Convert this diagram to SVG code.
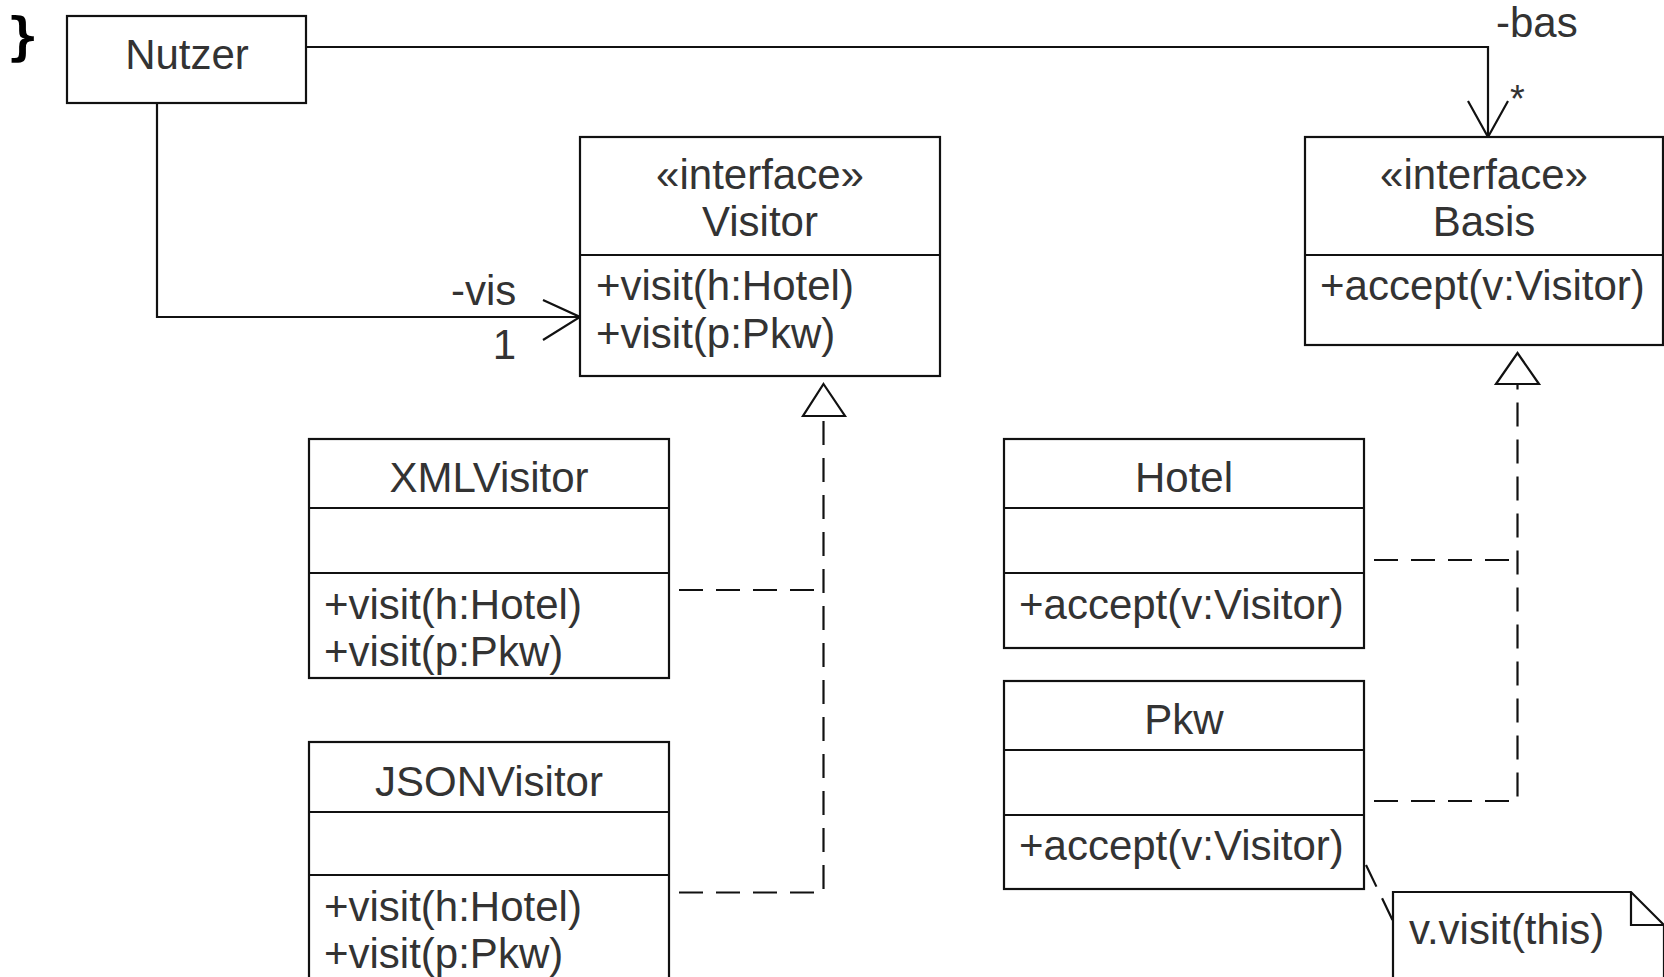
<svg xmlns="http://www.w3.org/2000/svg" width="1664" height="977" viewBox="0 0 1664 977">
<style>
  .box{fill:#fff;stroke:#111;stroke-width:2.2}
  .ln{fill:none;stroke:#111;stroke-width:2.2}
  .dash{fill:none;stroke:#111;stroke-width:2.2;stroke-dasharray:24 13}
  .tri{fill:#fff;stroke:#111;stroke-width:2.2}
  text{font-family:"Liberation Sans",Arial,sans-serif;font-size:42px;fill:#333}
  .c{text-anchor:middle}
  .brace{font-family:"DejaVu Sans Mono",monospace;font-weight:bold;font-size:52px;fill:#000}
</style>
<rect width="1664" height="977" fill="#fff"/>
<text class="brace" x="7" y="54">}</text>

<g id="connectors">
  <polyline class="ln" points="306,47 1488,47 1488,137"/>
  <polyline class="ln" points="1468,101 1488,137 1508,101"/>
  <text x="1496" y="37">-bas</text>
  <text x="1510" y="112" style="font-size:38px">*</text>

  <polyline class="ln" points="157,103 157,317 580,317"/>
  <polyline class="ln" points="543,300 580,317 543,340"/>
  <text x="451" y="305">-vis</text>
  <text x="516" y="359" text-anchor="end">1</text>

  <polyline class="dash" points="679,892.5 823.5,892.5 823.5,416"/>
  <line class="dash" x1="679" y1="590" x2="823.5" y2="590"/>
  <polygon class="tri" points="823.5,384 845,416 803,416"/>

  <polyline class="dash" points="1374,801 1517.5,801 1517.5,384"/>
  <line class="dash" x1="1374" y1="560" x2="1517.5" y2="560"/>
  <polygon class="tri" points="1517.5,353 1539,384 1496,384"/>

  <line class="dash" x1="1366" y1="865" x2="1393" y2="921"/>
</g>

<g id="nutzer">
  <rect class="box" x="67" y="16" width="239" height="87"/>
  <text class="c" x="187" y="69">Nutzer</text>
</g>

<g id="visitor">
  <rect class="box" x="580" y="137" width="360" height="239"/>
  <line class="ln" x1="580" y1="255" x2="940" y2="255"/>
  <text class="c" x="760" y="189">«interface»</text>
  <text class="c" x="760" y="236">Visitor</text>
  <text x="596" y="300">+visit(h:Hotel)</text>
  <text x="596" y="348">+visit(p:Pkw)</text>
</g>

<g id="basis">
  <rect class="box" x="1305" y="137" width="358" height="208"/>
  <line class="ln" x1="1305" y1="255" x2="1663" y2="255"/>
  <text class="c" x="1484" y="189">«interface»</text>
  <text class="c" x="1484" y="236">Basis</text>
  <text x="1320" y="300">+accept(v:Visitor)</text>
</g>

<g id="xmlvisitor">
  <rect class="box" x="309" y="439" width="360" height="239"/>
  <line class="ln" x1="309" y1="508" x2="669" y2="508"/>
  <line class="ln" x1="309" y1="573" x2="669" y2="573"/>
  <text class="c" x="489" y="492">XMLVisitor</text>
  <text x="324" y="619">+visit(h:Hotel)</text>
  <text x="324" y="666">+visit(p:Pkw)</text>
</g>

<g id="jsonvisitor">
  <rect class="box" x="309" y="742" width="360" height="250"/>
  <line class="ln" x1="309" y1="812" x2="669" y2="812"/>
  <line class="ln" x1="309" y1="875" x2="669" y2="875"/>
  <text class="c" x="489" y="796">JSONVisitor</text>
  <text x="324" y="921">+visit(h:Hotel)</text>
  <text x="324" y="968">+visit(p:Pkw)</text>
</g>

<g id="hotel">
  <rect class="box" x="1004" y="439" width="360" height="209"/>
  <line class="ln" x1="1004" y1="508" x2="1364" y2="508"/>
  <line class="ln" x1="1004" y1="573" x2="1364" y2="573"/>
  <text class="c" x="1184" y="492">Hotel</text>
  <text x="1019" y="619">+accept(v:Visitor)</text>
</g>

<g id="pkw">
  <rect class="box" x="1004" y="681" width="360" height="208"/>
  <line class="ln" x1="1004" y1="750" x2="1364" y2="750"/>
  <line class="ln" x1="1004" y1="815" x2="1364" y2="815"/>
  <text class="c" x="1184" y="734">Pkw</text>
  <text x="1019" y="860">+accept(v:Visitor)</text>
</g>

<g id="note">
  <path class="box" d="M1393,990 V892 H1631 L1664,925 V990 Z"/>
  <polyline class="ln" points="1631,892 1631,925 1664,925"/>
  <text x="1409" y="944">v.visit(this)</text>
</g>
</svg>
